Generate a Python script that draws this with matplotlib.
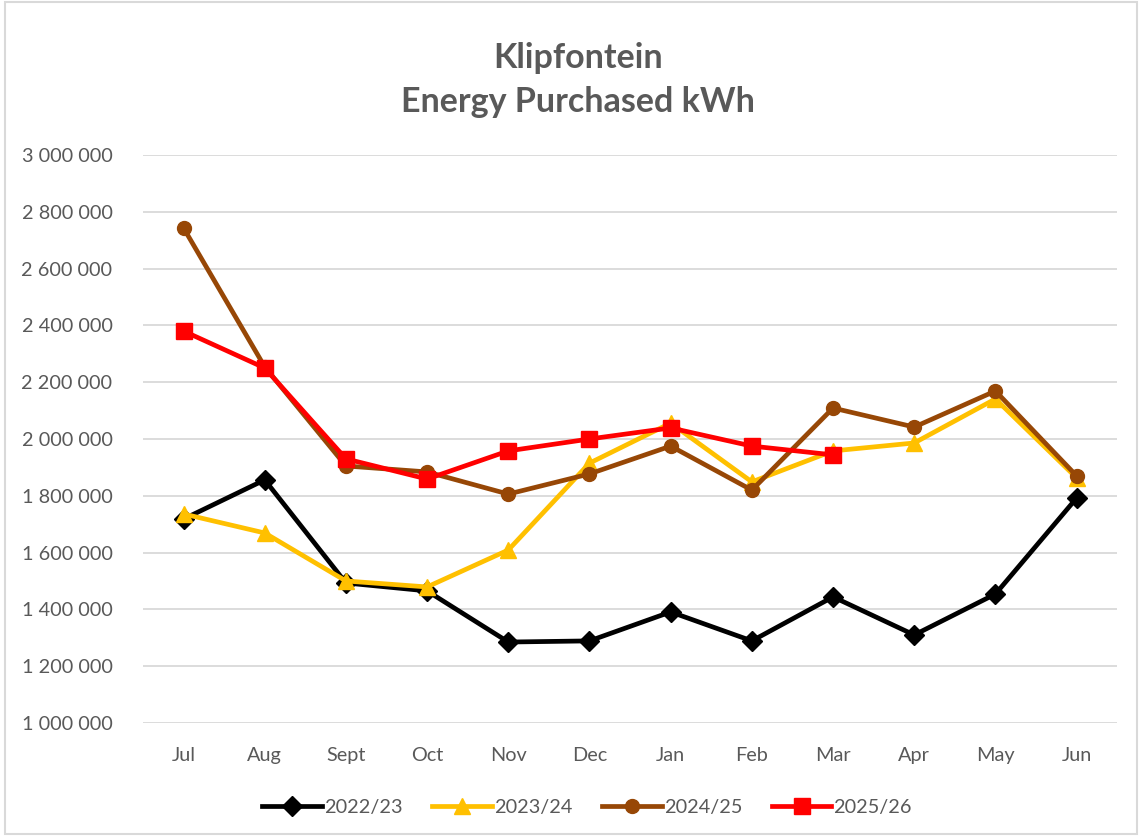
import matplotlib
matplotlib.use("Agg")
import matplotlib.pyplot as plt
from matplotlib.patches import Rectangle
from matplotlib.ticker import FuncFormatter

plt.rcParams['font.family'] = ['Lato', 'DejaVu Sans']

months = ['Jul', 'Aug', 'Sept', 'Oct', 'Nov', 'Dec', 'Jan', 'Feb', 'Mar', 'Apr', 'May', 'Jun']

fy2022 = [1718000, 1856000, 1493000, 1465000, 1285000, 1289000,
          1391000, 1289000, 1444000, 1310000, 1454000, 1792000]
fy2023 = [1736000, 1669000, 1500000, 1479000, 1609000, 1915000,
          2056000, 1849000, 1958000, 1986000, 2141000, 1863000]
fy2024 = [2743000, 2254000, 1905000, 1884000, 1806000, 1877000,
          1975000, 1820000, 2109000, 2042000, 2169000, 1870000]
fy2025 = [2380000, 2250000, 1930000, 1859000, 1958000, 2000000,
          2039000, 1975000, 1944000]

series = [
    ('2022/23', fy2022, '#000000', 'D', 10),
    ('2023/24', fy2023, '#FFC000', '^', 12),
    ('2024/25', fy2024, '#974706', 'o', 10),
    ('2025/26', fy2025, '#FF0000', 's', 12),
]

text_col = '#595959'

fig = plt.figure(figsize=(11.4, 8.36), dpi=100)
ax = fig.add_axes([0.1254, 0.1352, 0.8546, 0.6794])

x = list(range(len(months)))
for label, vals, col, mk, ms in series:
    ax.plot(x[:len(vals)], vals, color=col, lw=3.4, marker=mk, markersize=ms,
            label=label, solid_joinstyle='miter')

ax.set_xlim(-0.5, 11.5)
ax.set_ylim(1000000, 3000000)
ax.set_yticks(range(1000000, 3000001, 200000))
ax.yaxis.set_major_formatter(FuncFormatter(lambda v, p: f'{int(v):,}'.replace(',', ' ')))
ax.set_xticks(x)
ax.set_xticklabels(months)

ax.grid(axis='y', color='#d9d9d9', lw=1.3)
ax.set_axisbelow(True)
for s in ax.spines.values():
    s.set_visible(False)
ax.tick_params(axis='both', length=0, labelsize=14.3, labelcolor=text_col)
ax.tick_params(axis='y', pad=22)
ax.tick_params(axis='x', pad=17)

fig.suptitle('Klipfontein\nEnergy Purchased kWh', fontsize=24.5, fontweight='bold',
             color=text_col, x=0.507, y=0.95, linespacing=1.45)

fig.legend(loc='center', bbox_to_anchor=(0.515, 0.034), ncol=4, frameon=False,
           fontsize=14.3, labelcolor=text_col, handlelength=3, columnspacing=1.5,
           handletextpad=0.1)

fig.patches.append(Rectangle((0.004, 0.002), 0.993, 0.996, transform=fig.transFigure,
                             fill=False, edgecolor='#d9d9d9', lw=1.5))

fig.savefig('out.png', dpi=100)
